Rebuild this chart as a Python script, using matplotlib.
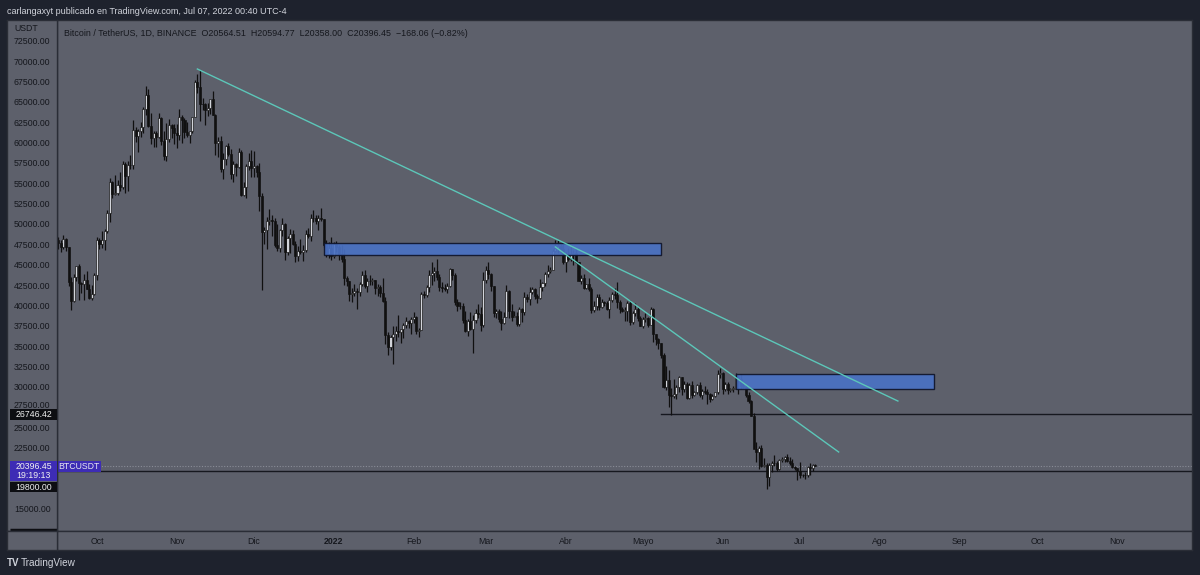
import matplotlib.pyplot as plt
import matplotlib.transforms as mtransforms
from matplotlib.patches import Rectangle
import numpy as np
import pandas as pd

plt.rcParams['font.family'] = ['Liberation Sans', 'DejaVu Sans']

# daily BTCUSDT candles, 2021-09-16 .. 2022-07-07, values in thousands of USDT
first_open = 48.12
close = [
    # Sep 16-30
    47.74, 47.30, 48.31, 47.25, 43.01, 40.69, 43.57, 44.90, 42.84, 42.72, 43.21, 42.17, 41.03, 41.52, 43.82,
    # Oct
    48.14, 47.63, 48.20, 49.22, 51.47, 55.32, 53.79, 53.95, 54.95, 54.66, 57.47, 56.01, 57.37, 57.35, 61.67, 60.88,
    61.53, 62.04, 64.28, 66.00, 62.21, 60.69, 61.29, 60.85, 63.08, 60.33, 58.45, 60.59, 62.25, 61.86, 61.30,
    # Nov
    61.00, 63.23, 62.94, 61.44, 61.00, 61.53, 63.27, 67.53, 66.94, 64.88, 64.81, 64.12, 64.39, 65.47, 63.56, 60.09,
    60.35, 56.90, 58.10, 59.70, 58.67, 56.28, 57.54, 57.14, 58.96, 53.73, 54.72, 57.27, 57.80, 56.95,
    # Dec
    57.18, 56.48, 53.60, 49.15, 49.40, 50.44, 50.59, 50.47, 47.55, 47.14, 49.38, 50.10, 46.70, 48.34, 48.86, 47.63,
    46.13, 46.83, 46.68, 46.91, 48.90, 48.59, 50.82, 50.84, 50.43, 50.80, 50.70, 47.54, 46.46, 47.12, 46.22,
    # Jan
    47.72, 47.29, 46.43, 45.83, 43.43, 43.08, 41.55, 41.67, 41.86, 41.82, 42.73, 43.90, 42.56, 43.07, 43.10, 43.18,
    42.25, 42.37, 41.66, 40.68, 36.45, 35.03, 36.28, 36.65, 36.95, 36.84, 37.20, 37.71, 38.17, 37.92, 38.48,
    # Feb
    38.74, 36.95, 37.15, 41.57, 41.38, 42.38, 43.84, 44.04, 44.37, 43.57, 42.38, 42.20, 42.09, 42.54, 44.55, 43.88,
    40.52, 40.00, 40.10, 38.38, 37.02, 38.23, 37.25, 38.33, 39.21, 39.11, 37.70, 43.19,
    # Mar
    44.42, 43.92, 42.45, 39.15, 39.40, 38.42, 37.99, 38.73, 41.94, 39.42, 38.73, 38.81, 37.78, 39.67, 39.29, 41.14,
    40.95, 41.80, 42.19, 41.25, 41.08, 42.36, 42.89, 43.96, 44.35, 44.50, 46.82, 47.13, 47.43, 47.07, 45.51,
    # Apr
    46.28, 45.81, 46.41, 46.58, 45.50, 43.17, 43.44, 42.25, 42.75, 42.16, 39.53, 40.07, 41.15, 39.94, 40.55, 40.38,
    39.68, 40.80, 41.50, 41.36, 40.48, 39.71, 39.45, 39.45, 40.43, 38.11, 39.24, 39.74, 38.60, 37.63,
    # May
    38.47, 38.53, 37.71, 39.70, 36.58, 36.01, 35.47, 34.04, 30.07, 31.01, 29.08, 28.94, 29.28, 30.08, 31.33, 29.85,
    30.43, 28.72, 30.30, 29.18, 29.43, 30.29, 29.10, 29.65, 29.54, 29.20, 28.63, 29.03, 29.47, 31.73, 31.80,
    # Jun
    29.80, 30.45, 29.70, 29.86, 29.91, 31.37, 31.13, 30.20, 30.11, 29.09, 28.42, 26.57, 22.49, 22.14, 22.58, 20.38,
    20.47, 19.02, 20.55, 20.72, 20.71, 19.99, 21.11, 21.23, 21.50, 21.04, 20.73, 20.28, 20.10, 19.78,
    # Jul 1-7
    19.30, 19.24, 19.30, 20.24, 20.18, 20.56451, 20.39645,
]
high = [
    48.49, 48.17, 48.81, 48.37, 47.33, 43.64, 44.00, 45.00, 45.17, 42.97, 43.92, 44.35, 42.79, 42.59, 44.13,
    48.50, 48.35, 49.30, 49.50, 51.89, 55.75, 55.34, 56.10, 55.49, 56.56, 57.84, 57.68, 57.80, 58.53, 62.93, 62.00,
    61.72, 62.70, 64.49, 67.00, 66.64, 63.70, 61.50, 61.49, 63.71, 63.29, 61.50, 62.50, 62.96, 62.40, 62.43,
    62.43, 64.27, 63.52, 63.09, 62.60, 61.56, 63.29, 67.79, 68.52, 69.00, 65.60, 65.00, 65.00, 65.50, 66.40, 63.62,
    60.84, 60.95, 58.87, 59.85, 60.05, 59.27, 57.88, 57.60, 59.40, 59.18, 55.28, 57.45, 58.87, 59.20,
    59.05, 57.38, 57.60, 53.87, 49.70, 51.00, 51.94, 51.20, 50.80, 50.10, 49.49, 50.80, 50.21, 48.70, 49.50, 49.43,
    48.00, 47.36, 48.30, 47.54, 49.33, 49.57, 51.38, 51.87, 51.16, 51.28, 52.09, 50.70, 48.14, 47.88, 48.55,
    47.94, 47.99, 47.57, 47.51, 47.07, 43.75, 43.14, 42.30, 42.79, 42.25, 43.00, 44.32, 44.45, 43.45, 43.80, 43.48,
    43.20, 42.69, 42.58, 43.50, 41.10, 36.84, 36.50, 37.55, 37.55, 38.92, 37.23, 38.00, 38.72, 38.36, 38.74,
    39.27, 38.85, 37.39, 41.74, 41.94, 42.66, 44.50, 45.49, 44.80, 45.82, 43.92, 42.99, 42.76, 42.88, 44.77, 44.58,
    44.16, 40.96, 40.48, 40.42, 39.49, 38.45, 39.29, 38.97, 39.73, 40.30, 39.88, 44.23,
    44.95, 45.40, 44.09, 42.50, 39.64, 39.69, 39.43, 39.36, 42.59, 42.02, 40.24, 39.49, 39.31, 39.88, 39.86, 41.72,
    41.48, 42.33, 42.40, 42.30, 41.54, 43.36, 43.02, 44.22, 45.09, 44.81, 46.99, 48.19, 48.10, 47.70, 47.60,
    46.72, 47.21, 47.44, 46.89, 47.20, 45.50, 43.90, 43.97, 42.80, 43.43, 42.41, 40.70, 41.56, 41.50, 40.85, 40.71,
    40.60, 41.12, 41.76, 42.20, 42.98, 40.80, 39.98, 39.90, 40.62, 40.80, 39.47, 40.37, 39.92, 38.80,
    38.67, 39.17, 38.66, 39.90, 39.84, 36.65, 36.13, 35.50, 34.24, 32.66, 32.20, 30.03, 31.08, 30.34, 31.41, 31.30,
    30.79, 30.67, 30.54, 30.78, 29.66, 30.42, 30.67, 29.83, 30.22, 29.88, 29.37, 29.25, 29.53, 32.22, 32.40,
    31.96, 30.67, 30.70, 29.94, 30.17, 31.77, 31.56, 31.69, 30.70, 30.38, 29.45, 28.55, 26.90, 23.36, 22.80, 22.98,
    21.36, 20.79, 20.81, 21.00, 21.72, 20.98, 21.25, 21.52, 21.61, 21.85, 21.50, 21.20, 20.43, 20.18,
    20.88, 19.45, 19.66, 20.38, 20.75, 20.68, 20.59477,
]
low = [
    47.00, 46.70, 47.04, 46.85, 42.50, 39.60, 40.55, 43.07, 40.80, 41.68, 40.80, 42.10, 40.88, 40.75, 41.40,
    43.29, 47.04, 47.12, 46.90, 49.00, 50.38, 53.37, 53.66, 53.70, 54.11, 54.42, 53.88, 54.17, 56.85, 56.81, 60.15,
    58.96, 60.85, 61.32, 63.55, 62.00, 60.00, 59.51, 59.62, 60.68, 59.84, 58.00, 57.82, 60.17, 60.73, 60.00,
    59.41, 60.38, 60.08, 60.72, 60.76, 60.07, 61.33, 63.27, 66.22, 62.82, 64.10, 62.28, 63.40, 63.60, 63.52, 58.57,
    58.37, 56.47, 55.60, 57.41, 58.51, 55.61, 55.30, 55.97, 57.00, 53.57, 53.61, 53.26, 56.73, 55.88,
    55.84, 55.84, 51.68, 42.00, 47.70, 47.10, 50.04, 48.60, 47.32, 46.85, 46.67, 48.63, 45.67, 46.28, 46.55, 47.51,
    45.46, 45.55, 46.41, 45.56, 46.66, 48.42, 48.07, 50.38, 50.17, 49.41, 50.45, 47.31, 46.06, 45.90, 45.68,
    46.00, 46.66, 45.70, 45.50, 42.65, 42.50, 40.61, 40.50, 41.27, 39.65, 41.27, 42.52, 42.31, 41.72, 42.58, 42.58,
    41.55, 41.25, 41.13, 40.57, 35.44, 34.01, 34.60, 32.92, 35.70, 36.23, 35.50, 36.17, 37.35, 37.35, 36.63,
    38.00, 36.58, 36.25, 37.05, 40.98, 41.12, 41.72, 42.67, 43.14, 43.18, 41.94, 41.73, 41.86, 41.61, 42.39, 43.27,
    40.11, 39.45, 39.65, 38.01, 36.80, 36.35, 37.05, 34.32, 38.02, 38.57, 37.00, 37.45,
    42.84, 43.33, 41.83, 38.65, 38.53, 38.09, 37.16, 37.86, 38.66, 38.54, 38.22, 38.66, 37.58, 37.56, 38.10, 38.93,
    40.56, 40.17, 41.52, 40.92, 40.47, 40.90, 41.91, 42.56, 43.58, 44.07, 44.42, 46.62, 46.55, 46.54, 45.20,
    44.21, 45.62, 45.53, 45.12, 45.36, 43.12, 42.73, 42.11, 42.12, 41.87, 39.20, 39.25, 39.55, 39.55, 39.77, 39.99,
    39.55, 38.54, 40.57, 40.86, 39.75, 39.18, 39.31, 38.20, 38.20, 37.70, 37.87, 38.88, 38.17, 37.58,
    37.39, 38.05, 37.51, 37.70, 35.60, 35.26, 34.77, 33.71, 30.00, 29.73, 27.70, 26.70, 28.75, 28.60, 29.45, 29.09,
    29.45, 28.65, 28.67, 28.73, 28.94, 29.26, 28.90, 28.67, 29.29, 28.02, 28.28, 28.55, 28.82, 29.30, 31.20,
    29.30, 29.58, 29.24, 29.50, 29.48, 29.88, 29.22, 29.86, 29.94, 28.85, 28.10, 26.56, 22.60, 20.85, 20.07, 20.23,
    20.23, 17.62, 17.96, 19.64, 20.35, 19.77, 19.89, 20.94, 20.88, 20.95, 20.52, 20.18, 19.85, 18.63,
    18.98, 19.02, 18.78, 19.04, 19.30, 19.77, 20.358,
]
start_date = '2021-09-16'

# drawings
trend1 = [('2021-11-09', 69150), ('2022-08-08', 28380)]
trend2 = [('2022-03-28', 47300), ('2022-07-16', 22120)]
zone1 = [('2021-12-28', '2022-05-08'), (46300, 47780)]
zone2 = [('2022-06-06', '2022-08-22'), (29860, 31700)]
level_low = 19800.00
level_mid = 26746.42
level_mid_from = '2022-05-08'
last_price = 20396.45

# 17500 and 20000 sit under the price tags on the original, so they are not shown
price_ticks = [15000, 22500, 25000, 27500, 30000, 32500, 35000, 37500, 40000, 42500, 45000, 47500,
               50000, 52500, 55000, 57500, 60000, 62500, 65000, 67500, 70000, 72500]
month_labels = ['Oct', 'Nov', 'Dic', '2022', 'Feb', 'Mar', 'Abr', 'Mayo', 'Jun', 'Jul', 'Ago', 'Sep', 'Oct', 'Nov']
month_starts = ['2021-10-01', '2021-11-01', '2021-12-01', '2022-01-01', '2022-02-01', '2022-03-01', '2022-04-01',
                '2022-05-01', '2022-06-01', '2022-07-01', '2022-08-01', '2022-09-01', '2022-10-01', '2022-11-01']

# ---------------------------------------------------------------
BG = '#1e222d'
PANEL = '#5d606b'
DARK = '#16181f'
TEXT = '#15171d'
TEAL = '#5cc7b9'

W, H = 1200, 575
ORIGIN = pd.Timestamp('2021-10-01')


def day(s):
    return (pd.Timestamp(s) - ORIGIN).days


def fig_rect(x0, y0, x1, y1):
    return [x0 / W, 1 - y1 / H, (x1 - x0) / W, (y1 - y0) / H]


fig = plt.figure(figsize=(W / 100, H / 100), dpi=100, facecolor=BG)

ax = fig.add_axes(fig_rect(57, 20, 1192, 531))
axp = fig.add_axes(fig_rect(7, 20, 57, 531))
axt = fig.add_axes(fig_rect(57, 531, 1192, 550))
axc = fig.add_axes(fig_rect(7, 531, 57, 550))
for a in (ax, axp, axt, axc):
    a.set_facecolor(PANEL)
    a.set_xticks([])
    a.set_yticks([])
    for s in a.spines.values():
        s.set_color('#2a2d36')
        s.set_linewidth(1)

ymin, ymax = 12420, 75165
ax.set_ylim(ymin, ymax)
axp.set_ylim(ymin, ymax)
axp.set_xlim(0, 1)
xmin, xmax = -15.5, 425.2
ax.set_xlim(xmin, xmax)
axt.set_xlim(xmin, xmax)
axt.set_ylim(0, 1)

# candles
c = np.array(close) * 1000
h = np.array(high) * 1000
l = np.array(low) * 1000
o = np.concatenate([[first_open * 1000], c[:-1]])
x = np.arange(len(c)) + day(start_date)
up = c >= o
ax.vlines(x, l, h, color='#101010', linewidth=0.9, zorder=3)
body = np.maximum(np.abs(c - o), 60)
bot = np.minimum(o, c)
ax.bar(x[up], body[up], bottom=bot[up], width=0.8, color='#d2d4da', edgecolor='#101010',
       linewidth=0.45, zorder=4)
ax.bar(x[~up], body[~up], bottom=bot[~up], width=0.8, color='#101010', edgecolor='#101010',
       linewidth=0.45, zorder=4)

# zones
for (d0, d1), (p0, p1) in (zone1, zone2):
    ax.add_patch(Rectangle((day(d0), p0), day(d1) - day(d0), p1 - p0, facecolor='#4a72c4',
                           edgecolor='#10152a', linewidth=1, alpha=0.92, zorder=5))

# trend lines
for (d0, p0), (d1, p1) in (trend1, trend2):
    ax.plot([day(d0), day(d1)], [p0, p1], color=TEAL, linewidth=1, zorder=6)

# horizontal levels
ax.axhline(level_low, color=DARK, linewidth=1, zorder=2)
ax.plot([day(level_mid_from), xmax], [level_mid, level_mid], color=DARK, linewidth=1, zorder=2)
ax.axhline(last_price, color='#8a8d97', linewidth=0.8, linestyle=(0, (1, 1.5)), zorder=2)

# legend line and symbol tag
ax.text(0.006, 0.982, 'Bitcoin / TetherUS, 1D, BINANCE  O20564.51  H20594.77  L20358.00  C20396.45  '
        '\u2212168.06 (\u22120.82%)', transform=ax.transAxes, ha='left', va='top', fontsize=6.4,
        color=TEXT)
px = (ymax - ymin) / 511.0
bt = mtransforms.blended_transform_factory(ax.transAxes, ax.transData)
ax.add_patch(Rectangle((0.0, last_price - 5.5 * px), 44 / 1135, 11 * px, transform=bt,
                       facecolor='#3d2cb5', edgecolor='none', zorder=7, clip_on=False))
ax.text(22 / 1135, last_price, 'BTCUSDT', transform=bt, ha='center', va='center', fontsize=6.3,
        color='#e6e6f0', zorder=8)

# price axis labels
pt = mtransforms.blended_transform_factory(axp.transAxes, axp.transData)
axp.text(0.14, ymax - 8.3 * px, 'USDT', transform=pt, ha='left', va='center', fontsize=6.3, color=TEXT)
for p in price_ticks:
    # 27500 peeks out above the 26746.42 tag on the original
    yy = p + 2.5 * px if p == 27500 else p
    axp.text(0.14, yy, f'{p:.2f}', transform=pt, ha='left', va='center', fontsize=6.3, color=TEXT)

# price tags on the axis
axp.add_patch(Rectangle((0.06, level_mid - 5.5 * px), 0.94, 11 * px, transform=pt, facecolor='#0d0e12',
                        edgecolor='none', zorder=5))
axp.text(0.53, level_mid, f'{level_mid:.2f}', transform=pt, ha='center', va='center', fontsize=6.3,
         color='#f0f0f0', zorder=6)
axp.add_patch(Rectangle((0.06, last_price - 15 * px), 0.94, 20 * px, transform=pt, facecolor='#3d2cb5',
                        edgecolor='none', zorder=5))
axp.text(0.53, last_price, f'{last_price:.2f}', transform=pt, ha='center', va='center',
         fontsize=6.3, color='#f0f0f0', zorder=6)
axp.text(0.53, last_price - 9.5 * px, '19:19:13', transform=pt, ha='center', va='center',
         fontsize=6.3, color='#f0f0f0', zorder=6)
axp.add_patch(Rectangle((0.06, last_price - 26 * px), 0.94, 10.5 * px, transform=pt, facecolor='#0d0e12',
                        edgecolor='none', zorder=5))
axp.text(0.53, last_price - 21 * px, f'{level_low:.2f}', transform=pt, ha='center', va='center',
         fontsize=6.3, color='#f0f0f0', zorder=6)
axp.plot([0.06, 1], [ymin + 1.5 * px, ymin + 1.5 * px], transform=pt, color='#0d0e12', linewidth=2.5,
         solid_capstyle='butt')

# time axis labels
for lab, d in zip(month_labels, month_starts):
    axt.text(day(d), 0.45, lab, ha='center', va='center', fontsize=6.3, color=TEXT,
             fontweight='bold' if lab == '2022' else 'normal')

# header / footer
fig.text(7 / W, 1 - 11 / H, 'carlangaxyt publicado en TradingView.com, Jul 07, 2022 00:40 UTC-4',
         ha='left', va='center', fontsize=6.5, color='#d1d4dc')
fig.text(7 / W, 1 - 563 / H, 'TV', ha='left', va='center', fontsize=7, color='#d1d4dc', fontweight='bold')
fig.text(21 / W, 1 - 563 / H, 'TradingView', ha='left', va='center', fontsize=7.2, color='#d1d4dc')

fig.savefig('out.png', dpi=100, facecolor=BG)
